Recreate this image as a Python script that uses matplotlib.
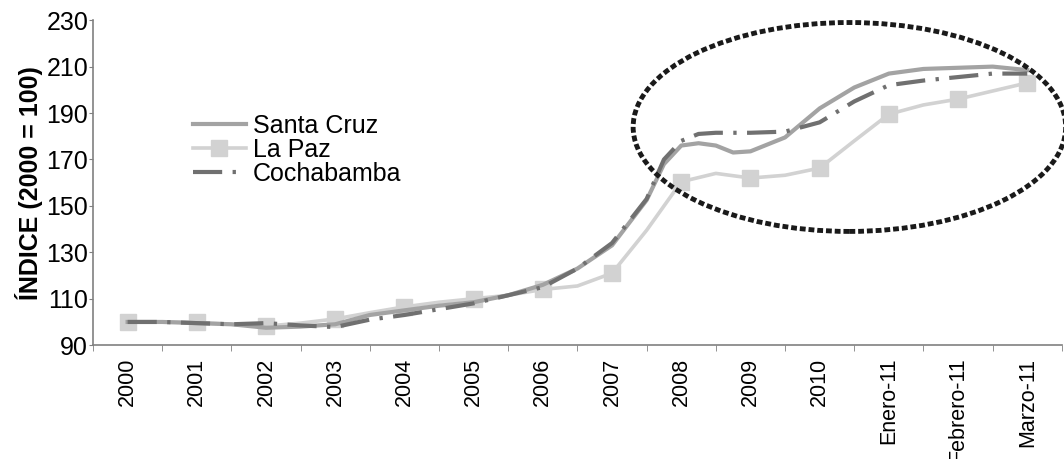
import numpy as np
import matplotlib
matplotlib.use("Agg")
import matplotlib.pyplot as plt
from matplotlib.patches import Ellipse

plt.rcParams['font.family'] = ['Liberation Sans', 'DejaVu Sans']

# categorias del eje x
categorias = ["2000", "2001", "2002", "2003", "2004", "2005", "2006", "2007",
              "2008", "2009", "2010", "Enero-11", "Febrero-11", "Marzo-11"]

# posiciones de los datos (cada medio periodo) y valores
pos = [0, 0.5, 1, 1.5, 2, 2.5, 3, 3.5, 4, 4.5, 5, 5.5, 6, 6.5, 7, 7.5, 7.75,
       8, 8.25, 8.5, 8.75, 9, 9.5, 10, 10.5, 11, 11.5, 12, 12.5, 13]
santa_cruz = [100, 100, 99.5, 99, 97.5, 98, 99, 103, 105, 107, 108.5, 111.5,
              116, 123, 133, 152.5, 168, 176, 177, 176, 173, 173.5, 179.5,
              192, 201, 207, 209, 209.5, 210, 208.5]
cochabamba = [100, 100, 99.5, 99, 99.5, 98.5, 97.8, 101, 103, 105.5, 108,
              111.5, 115, 123, 134, 153, 170, 178, 181, 181.5, 181.5, 181.5,
              182, 186, 195, 202, 204, 205.5, 207, 207]

# La Paz: puntos con marcador en cada categoria
pos_lp = list(range(14))
la_paz = [100, 99.8, 98.2, 101.3, 106.5, 110, 114, 121, 160.4, 162, 166.3,
          189.5, 196, 203]
pos_lp_mid = [0.5, 1.5, 2.5, 3.5, 4.5, 5.5, 6.5, 7.5, 8.5, 9.5, 10.5, 11.5, 12.5]
la_paz_mid = [100, 99, 99.5, 104, 108.5, 111.5, 115.5, 139.5, 164, 163.2, 178,
              193.5, 199.5]

x_lp = np.concatenate([pos_lp, pos_lp_mid])
y_lp = np.concatenate([la_paz, la_paz_mid])
orden = np.argsort(x_lp)
x_lp, y_lp = x_lp[orden], y_lp[orden]

fig = plt.figure(figsize=(10.64, 4.59), dpi=100)
ax = fig.add_axes([0.0874, 0.248, 0.9106, 0.708])

ax.plot(pos, santa_cruz, color="#a3a3a3", lw=3.0, label="Santa Cruz",
        solid_joinstyle="round", zorder=3)
ax.plot(x_lp, y_lp, color="#d2d2d2", lw=2.6, zorder=2)
ax.plot(pos_lp, la_paz, color="#d2d2d2", lw=0, marker="s", markersize=11,
        zorder=2)
ax.plot([], [], color="#d2d2d2", lw=2.6, marker="s", markersize=11,
        label="La Paz")
ax.plot(pos, cochabamba, color="#707070", lw=3.0, dashes=(7, 2.5, 0.8, 2.5),
        label="Cochabamba", zorder=4)

# elipse punteada
elipse = Ellipse((10.43, 184), width=6.25, height=90, fill=False,
                 edgecolor="#1a1a1a", lw=3.5, linestyle=(0, (1.2, 0.6)),
                 clip_on=False, zorder=5)
ax.add_patch(elipse)

ax.set_xlim(-0.5, 13.5)
ax.set_ylim(90, 230)
ax.set_yticks(range(90, 231, 20))
ax.set_xticks(range(14))
ax.set_xticklabels(categorias, rotation=90, fontsize=15.5)
ax.set_xticks(np.arange(-0.5, 13.6, 1), minor=True)
ax.tick_params(axis="x", which="major", length=0, pad=9)
ax.tick_params(axis="x", which="minor", length=4, color="#808080")
ax.tick_params(axis="y", length=3, color="#808080", labelsize=18, pad=0.5)

for lado in ["top", "right"]:
    ax.spines[lado].set_visible(False)
for lado in ["left", "bottom"]:
    ax.spines[lado].set_color("#808080")
    ax.spines[lado].set_linewidth(1.2)

ax.set_ylabel("ÍNDICE (2000 = 100)", fontsize=18, fontweight="bold",
              labelpad=2)

leg = ax.legend(loc="upper left", bbox_to_anchor=(0.093, 0.742), frameon=False,
                fontsize=18, handlelength=2.1, handletextpad=0.3,
                labelspacing=0.0, borderaxespad=0)

fig.savefig("out.png", dpi=100)
